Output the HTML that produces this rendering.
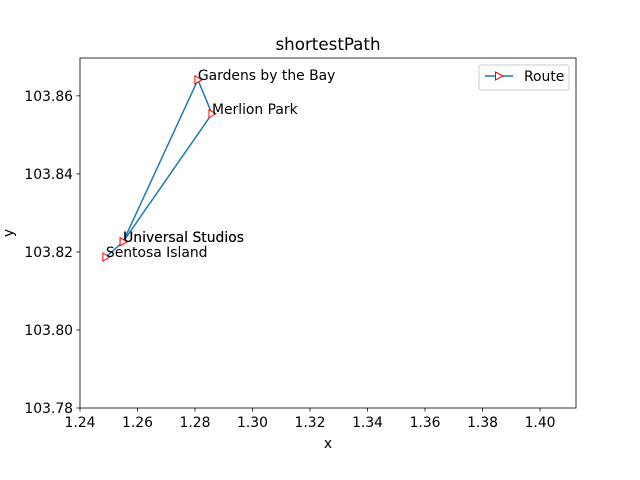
<!DOCTYPE html>
<html><head><meta charset="utf-8"><style>
body{margin:0;background:#fff}
svg{display:block;font-family:"DejaVu Sans","Liberation Sans",sans-serif}
</style></head><body>
<svg id="chart" width="640" height="480">
<rect width="640" height="480" fill="#fff"/>
<text x="328" y="50" font-size="16.7" text-anchor="middle">shortestPath</text>
<g id="ticks"></g>
<g id="plot"></g>
<rect x="80" y="58" width="496" height="350" fill="none" stroke="#000" stroke-width="0.8"/>
<text x="328" y="448" font-size="13.9" text-anchor="middle">x</text>
<text x="13" y="233" font-size="13.9" text-anchor="middle" transform="rotate(-90 13 233)">y</text>
<g>
<rect x="479" y="65" width="90" height="25" rx="2" fill="#fff" stroke="#ccc"/>
<line x1="485" y1="76" x2="513" y2="76" stroke="#1f77b4" stroke-width="1.5"/>
<path d="M495.5,72 L503,76 L495.5,80 Z" fill="#fff" stroke="red"/>
<text x="524" y="81" font-size="13.9">Route</text>
</g>
</svg>
<script>
const names=["Sentosa Island","Universal Studios","Gardens by the Bay","Merlion Park","Universal Studios"];
const xs=[1.249,1.255,1.281,1.2859,1.255];
const ys=[103.8187,103.8226,103.8641,103.8554,103.8226];
const xTicks=["1.24","1.26","1.28","1.30","1.32","1.34","1.36","1.38","1.40"];
const yTicks=["103.78","103.80","103.82","103.84","103.86"];
const NS="http://www.w3.org/2000/svg";
const xMin=1.24,xMax=1.4125,yMin=103.78,yMax=103.8697;
const X=v=>80+(v-xMin)/(xMax-xMin)*496;
const Y=v=>408-(v-yMin)/(yMax-yMin)*350;
function mk(t,a,p){const e=document.createElementNS(NS,t);for(const k in a)e.setAttribute(k,a[k]);p.appendChild(e);return e;}
const tg=document.getElementById('ticks'),pg=document.getElementById('plot');
xTicks.forEach(t=>{const x=X(+t);
 const l=mk('line',{x1:x,x2:x,y1:408,y2:411.5,stroke:'#000','stroke-width':0.8},tg);
 
 
 const s=mk('text',{x:x,y:427,'font-size':13.9,'text-anchor':'middle'},tg);s.textContent=t;
 
 });
yTicks.forEach(t=>{const y=Y(+t);
 const l=mk('line',{x1:76.5,x2:80,y1:y,y2:y,stroke:'#000','stroke-width':0.8},tg);
 
 
 const s=mk('text',{x:73,y:y+5,'font-size':13.9,'text-anchor':'end'},tg);s.textContent=t;
 
 });
const line=mk('polyline',{points:xs.map((v,i)=>X(v)+','+Y(ys[i])).join(' '),fill:'none',stroke:'#1f77b4','stroke-width':1.5},pg);


xs.forEach((v,i)=>{const x=X(v),y=Y(ys[i]);
 const m=mk('path',{d:`M${x-3},${y-4} L${x+4},${y} L${x-3},${y+4} Z`,fill:'#fff',stroke:'red'},pg);
 
 
 const s=mk('text',{x:x,y:y,'font-size':13.9},pg);s.textContent=names[i];
 
 });
</script>
</body></html>
